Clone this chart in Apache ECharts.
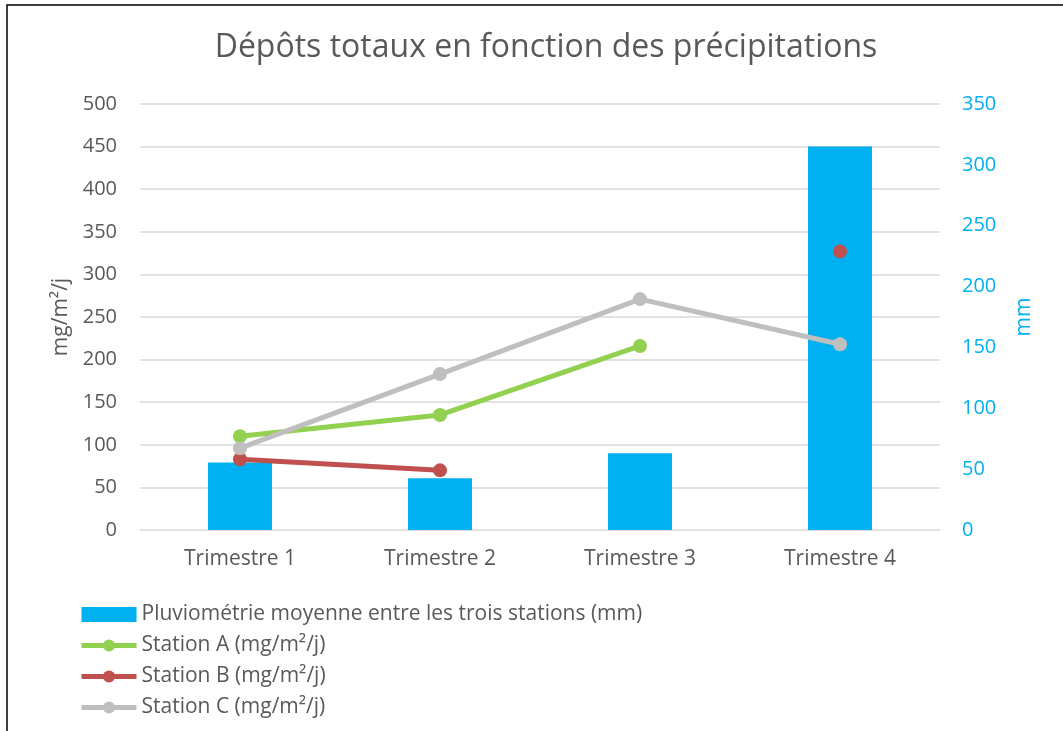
<!DOCTYPE html>
<html>
<head>
<meta charset="utf-8">
<script src="https://cdn.jsdelivr.net/npm/echarts@6/dist/echarts.min.js"></script>
<style>
  * { margin: 0; padding: 0; }
  html, body { background: #fff; }
  #main { width: 1063px; height: 731px; }
</style>
</head>
<body>
<div id="main"></div>
<script>
// categories et valeurs
var trimestres = ['Trimestre 1', 'Trimestre 2', 'Trimestre 3', 'Trimestre 4'];
var pluviometrie = [55.5, 42.5, 63, 315];
var stationA = [110, 135, 216, null];
var stationB = [83, 70, null, 327];
var stationC = [96, 183, 271, 218];
var ticksGauche = [0, 500, 50];
var ticksDroite = [0, 350, 50];

var gris = '#595959';
var police = 'Open Sans';

var chart = echarts.init(document.getElementById('main'));
chart.setOption({
  animation: false,
  backgroundColor: '#fff',
  textStyle: { fontFamily: police },
  graphic: [{
    type: 'rect',
    shape: { x: 7, y: 5, width: 1200, height: 900 },
    style: { fill: 'none', stroke: '#000', lineWidth: 1.5 }
  }],
  title: {
    text: 'Dépôts totaux en fonction des précipitations',
    left: 541,
    textAlign: 'center',
    top: 27,
    textStyle: { fontFamily: police, fontSize: 32, fontWeight: 'normal', color: gris }
  },
  legend: {
    orient: 'vertical',
    left: 74,
    top: 598,
    itemWidth: 55,
    itemHeight: 15,
    itemGap: 8,
    lineStyle: { width: 5 },
    textStyle: { fontFamily: police, fontSize: 21, color: gris, lineHeight: 23 },
    data: [
      { name: 'Pluviométrie moyenne entre les trois stations (mm)', icon: 'rect' },
      'Station A (mg/m²/j)',
      'Station B (mg/m²/j)',
      'Station C (mg/m²/j)'
    ]
  },
  grid: { left: 140, right: 123, top: 104, bottom: 201 },
  xAxis: {
    type: 'category',
    data: trimestres,
    axisLine: { show: false },
    axisTick: { show: false },
    axisLabel: { color: gris, fontSize: 21, margin: 19, fontFamily: police }
  },
  yAxis: [
    {
      type: 'value',
      min: ticksGauche[0], max: ticksGauche[1], interval: ticksGauche[2],
      name: 'mg/m²/j',
      nameLocation: 'middle',
      nameGap: 68,
      nameTextStyle: { color: gris, fontSize: 21, fontFamily: police },
      axisLine: { show: false },
      axisTick: { show: false },
      axisLabel: { color: gris, fontSize: 20, margin: 23, fontFamily: police },
      splitLine: { lineStyle: { color: '#D9D9D9', width: 1.5 } }
    },
    {
      type: 'value',
      position: 'right',
      min: ticksDroite[0], max: ticksDroite[1], interval: ticksDroite[2],
      name: 'mm',
      nameLocation: 'middle',
      nameGap: 74,
      nameTextStyle: { color: '#00B0F0', fontSize: 21, fontFamily: police },
      axisLine: { show: false },
      axisTick: { show: false },
      axisLabel: { color: '#00B0F0', fontSize: 20, margin: 22, fontFamily: police },
      splitLine: { show: false }
    }
  ],
  series: [
    {
      name: 'Pluviométrie moyenne entre les trois stations (mm)',
      type: 'bar',
      yAxisIndex: 1,
      barWidth: 64,
      data: pluviometrie,
      itemStyle: { color: '#00B0F0' }
    },
    {
      name: 'Station A (mg/m²/j)',
      type: 'line',
      data: stationA,
      symbol: 'circle',
      symbolSize: 14,
      lineStyle: { width: 5, color: '#92D050' },
      itemStyle: { color: '#92D050' }
    },
    {
      name: 'Station B (mg/m²/j)',
      type: 'line',
      data: stationB,
      symbol: 'circle',
      symbolSize: 14,
      lineStyle: { width: 5, color: '#C0504D' },
      itemStyle: { color: '#C0504D' }
    },
    {
      name: 'Station C (mg/m²/j)',
      type: 'line',
      data: stationC,
      symbol: 'circle',
      symbolSize: 14,
      lineStyle: { width: 5, color: '#BFBFBF' },
      itemStyle: { color: '#BFBFBF' }
    }
  ]
});
</script>
</body>
</html>
